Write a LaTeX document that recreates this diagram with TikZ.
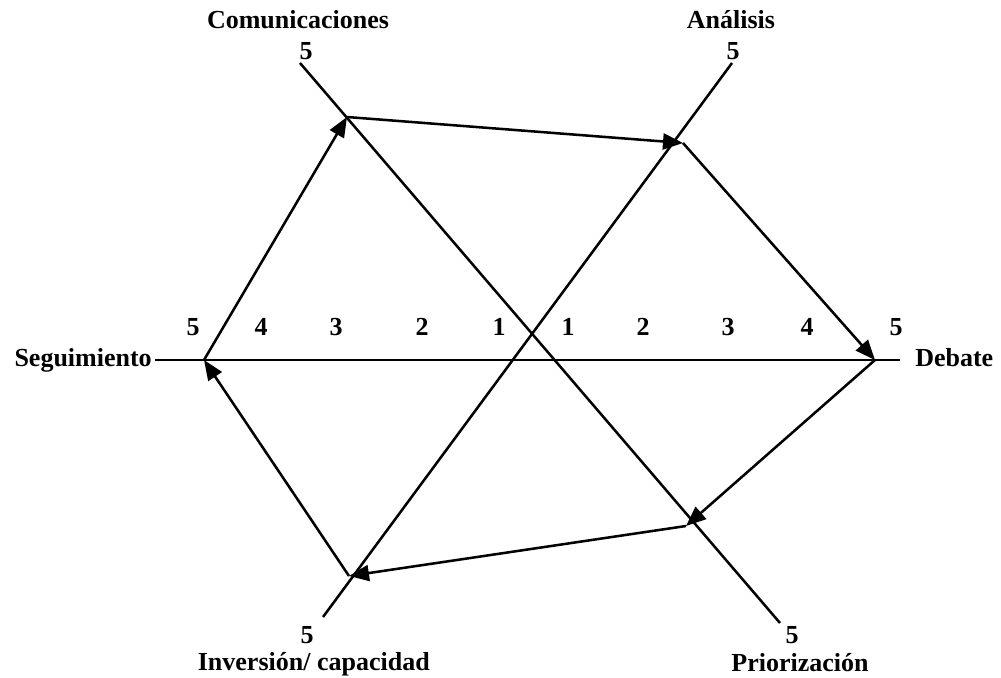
\documentclass[tikz,border=0pt]{standalone}
\usepackage{fontspec}
\setmainfont{Liberation Serif}
\usetikzlibrary{arrows.meta}
\begin{document}
\begin{tikzpicture}[x=0.75pt,y=-0.75pt,
  axisline/.style={line width=1.9pt},
  edge/.style={line width=1.9pt,-{Triangle[length=15pt,width=12pt]}},
  lbl/.style={font=\bfseries\fontsize{19.5}{22}\selectfont, inner sep=0pt},
]
\useasboundingbox (0,0) rectangle (1001,678);
% hexagon vertices
\coordinate (S) at (204,360);
\coordinate (C) at (347,117);
\coordinate (A) at (683,143);
\coordinate (D) at (875,360);
\coordinate (P) at (686,526);
\coordinate (I) at (349,576);
% axis ends
\coordinate (hL) at (155,360);
\coordinate (hR) at (900,360);
\coordinate (cT) at (300,63);
\coordinate (cB) at (780,623);
\coordinate (aT) at (732,63);
\coordinate (aB) at (323,617);
% axes
\draw[axisline] (hL) -- (hR);
\draw[axisline] (cT) -- (cB);
\draw[axisline] (aT) -- (aB);
% cycle arrows
\draw[edge] (S) -- (C);
\draw[edge] (C) -- (A);
\draw[edge] (A) -- (D);
\draw[edge] (D) -- (P);
\draw[edge] (P) -- (I);
\draw[edge] (I) -- (S);
% axis labels
\node[lbl, anchor=base east] (seg) at (152,366) {Seguimiento};
\node[lbl, anchor=base west] (deb) at (915,366) {Debate};
\node[lbl, anchor=base] (com) at (298,28) {Comunicaciones};
\node[lbl, anchor=base] (ana) at (731,28) {Análisis};
\node[lbl, anchor=base east] (inv) at (430,670) {Inversión/ capacidad};
\node[lbl, anchor=base] (pri) at (800,671) {Priorización};
% end values
\node[lbl, anchor=base] (c5) at (306,59) {5};
\node[lbl, anchor=base] (a5) at (733,59) {5};
\node[lbl, anchor=base] (i5) at (307,643) {5};
\node[lbl, anchor=base] (p5) at (792,643) {5};
% scale numbers
\node[lbl, anchor=base] (l5) at (193,335) {5};
\node[lbl, anchor=base] (l4) at (261,335) {4};
\node[lbl, anchor=base] (l3) at (336,335) {3};
\node[lbl, anchor=base] (l2) at (422,335) {2};
\node[lbl, anchor=base] (l1) at (499,335) {1};
\node[lbl, anchor=base] (r1) at (568,335) {1};
\node[lbl, anchor=base] (r2) at (643,335) {2};
\node[lbl, anchor=base] (r3) at (728,335) {3};
\node[lbl, anchor=base] (r4) at (807,335) {4};
\node[lbl, anchor=base] (r5) at (896,335) {5};
\end{tikzpicture}
\end{document}
